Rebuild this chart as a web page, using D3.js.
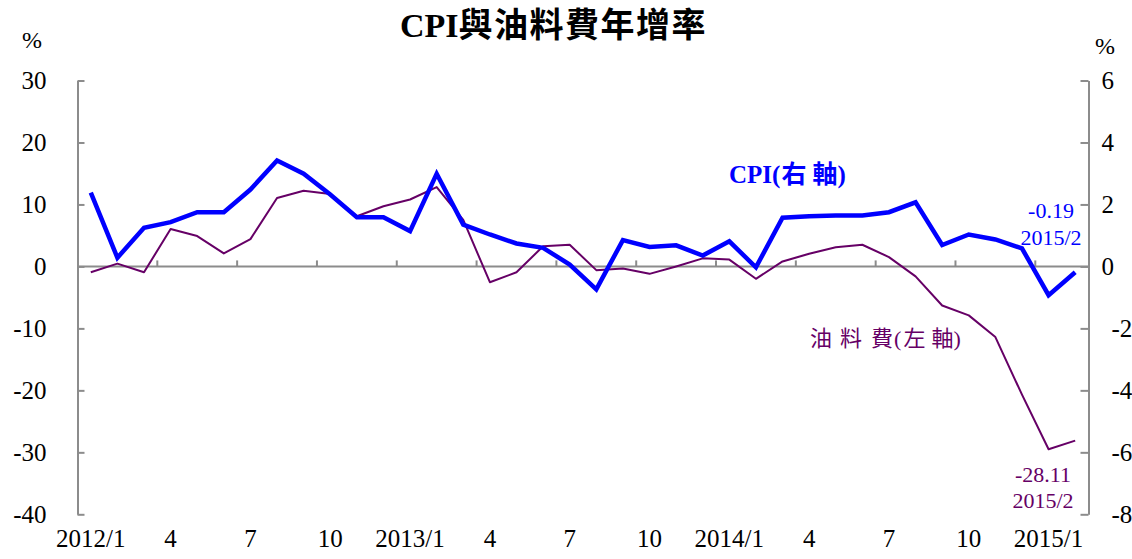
<!DOCTYPE html>
<html>
<head>
<meta charset="utf-8">
<script src="https://cdn.jsdelivr.net/npm/d3@7"></script>
<style>
  body { margin: 0; background: #fff; }
  svg { display: block; font-family: "Liberation Serif", "Noto Sans CJK TC", serif; }
</style>
</head>
<body>
<div id="chart"></div>
<script>
// data
const months = [
  "2012/1","2012/2","2012/3","2012/4","2012/5","2012/6","2012/7","2012/8","2012/9","2012/10","2012/11","2012/12",
  "2013/1","2013/2","2013/3","2013/4","2013/5","2013/6","2013/7","2013/8","2013/9","2013/10","2013/11","2013/12",
  "2014/1","2014/2","2014/3","2014/4","2014/5","2014/6","2014/7","2014/8","2014/9","2014/10","2014/11","2014/12",
  "2015/1","2015/2"
];
// CPI yoy (right axis)
const cpi = [2.38,0.28,1.25,1.43,1.75,1.75,2.48,3.42,2.99,2.32,1.59,1.59,
  1.14,2.99,1.35,1.03,0.74,0.60,0.06,-0.74,0.85,0.63,0.68,0.35,
  0.81,-0.03,1.57,1.62,1.64,1.64,1.75,2.07,0.69,1.03,0.87,0.58,
  -0.93,-0.19];
// 油料費 yoy (left axis)
const oil = [-0.95,0.45,-0.95,6.05,4.9,2.1,4.4,11.05,12.2,11.7,8.1,9.7,
  10.8,12.8,7.5,-2.55,-0.95,3.25,3.5,-0.6,-0.35,-1.2,0.0,1.3,
  1.1,-2.0,0.8,2.05,3.1,3.5,1.5,-1.6,-6.3,-7.9,-11.4,-20.7,
  -29.5,-28.11];
const tickLabels = ["2012/1","4","7","10","2013/1","4","7","10","2014/1","4","7","10","2015/1"];
const leftTicks = [30,20,10,0,-10,-20,-30,-40];
const rightTicks = [6,4,2,0,-2,-4,-6,-8];

const W = 1132, H = 559;
const plot = {left: 77.5, right: 1088.5, top: 80.5, bottom: 514.3};
const axisColor = "#8c8c8c";

const svg = d3.select("#chart").append("svg")
    .attr("width", W)
    .attr("height", H);

const x = d3.scaleBand()
    .domain(d3.range(months.length))
    .range([plot.left, plot.right])
    .padding(0);

const yL = d3.scaleLinear().domain([-40, 30]).range([plot.bottom, plot.top]);
const yR = d3.scaleLinear().domain([-8, 6]).range([plot.bottom, plot.top]);

const cx = i => x(i) + x.bandwidth() / 2;

// left axis
const leftAxis = svg.append("g")
    .attr("transform", `translate(${plot.left},0)`)
    .call(d3.axisLeft(yL).tickValues(leftTicks).tickSize(-7).tickSizeOuter(0)
        .tickPadding(31).tickFormat(d => String(d)));

// right axis
const rightAxis = svg.append("g")
    .attr("transform", `translate(${plot.right},0)`)
    .call(d3.axisRight(yR).tickValues(rightTicks).tickSize(-8).tickSizeOuter(0)
        .tickPadding(13).tickFormat(d => String(d)));
rightAxis.selectAll(".tick text").attr("dx", d => d < 0 ? 10 : 0);

[leftAxis, rightAxis].forEach(g => {
    g.select(".domain").attr("stroke", axisColor).attr("stroke-width", 2);
    g.selectAll(".tick line").attr("stroke", axisColor).attr("stroke-width", 2);
    g.selectAll(".tick text")
        .attr("fill", "#000")
        .style("font-family", "Liberation Serif, serif")
        .style("font-size", "25px");
});

// zero line acting as the category axis
const y0 = yL(0);
svg.append("line")
    .attr("x1", plot.left).attr("x2", plot.right)
    .attr("y1", y0).attr("y2", y0)
    .attr("stroke", axisColor).attr("stroke-width", 2);

const boundaries = d3.range(3, months.length, 3);
svg.selectAll(".xtick")
    .data(boundaries)
    .join("line")
    .attr("class", "xtick")
    .attr("x1", d => x(d)).attr("x2", d => x(d))
    .attr("y1", y0).attr("y2", y0 - 6)
    .attr("stroke", axisColor).attr("stroke-width", 2);

svg.selectAll(".xlabel")
    .data(tickLabels)
    .join("text")
    .attr("class", "xlabel")
    .attr("x", (d, i) => cx(i * 3))
    .attr("y", 547)
    .attr("text-anchor", "middle")
    .style("font-size", "25px")
    .text(d => d);

// lines
const oilLine = d3.line().x((d, i) => cx(i)).y(d => yL(d));
const cpiLine = d3.line().x((d, i) => cx(i)).y(d => yR(d));

svg.append("path")
    .datum(oil)
    .attr("d", oilLine)
    .attr("fill", "none")
    .attr("stroke", "#660066")
    .attr("stroke-width", 2)
    .attr("stroke-linejoin", "round");

svg.append("path")
    .datum(cpi)
    .attr("d", cpiLine)
    .attr("fill", "none")
    .attr("stroke", "#0000ff")
    .attr("stroke-width", 4.5)
    .attr("stroke-linejoin", "miter");

// title
const title = svg.append("text")
    .attr("x", 400)
    .attr("y", 37)
    .style("font-size", "34px")
    .style("font-weight", "bold");
title.append("tspan").text("CPI");
title.append("tspan").attr("letter-spacing", 1.5).text("與油料費年增率");

// % units
svg.append("text").attr("x", 22).attr("y", 48).style("font-size", "24px").text("%");
svg.append("text").attr("x", 1095).attr("y", 54).style("font-size", "24px").text("%");

// series labels
svg.append("text")
    .attr("x", 729).attr("y", 183)
    .attr("fill", "#0000ff")
    .attr("dx", "0 0 0 0 1 6 0")
    .style("font-size", "25px")
    .style("font-weight", "bold")
    .text("CPI(右軸)");

svg.append("text")
    .attr("x", 810).attr("y", 346)
    .attr("fill", "#660066")
    .attr("dx", "0 8 9 1 2 6 0")
    .style("font-size", "22px")
    .text("油料費(左軸)");

// end-point annotations
const last = months.length - 1;
svg.append("text").attr("x", 1051).attr("y", 218).attr("text-anchor", "middle")
    .attr("fill", "#0000ff").style("font-size", "22px").text(String(cpi[last]));
svg.append("text").attr("x", 1051).attr("y", 245).attr("text-anchor", "middle")
    .attr("fill", "#0000ff").style("font-size", "22px").text(months[last]);
svg.append("text").attr("x", 1043).attr("y", 482).attr("text-anchor", "middle")
    .attr("fill", "#660066").style("font-size", "22px").text(String(oil[last]));
svg.append("text").attr("x", 1043).attr("y", 508).attr("text-anchor", "middle")
    .attr("fill", "#660066").style("font-size", "22px").text(months[last]);
</script>
</body>
</html>
